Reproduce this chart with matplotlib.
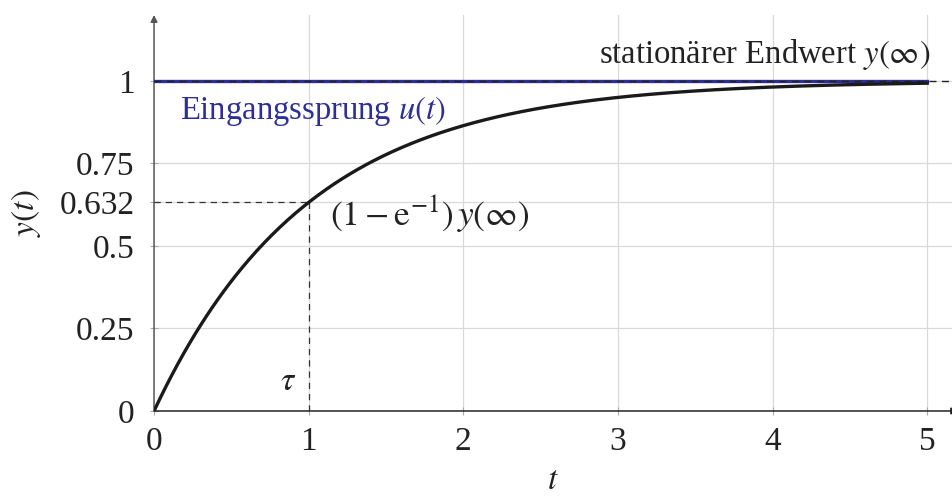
import numpy as np
import matplotlib
matplotlib.use("Agg")
import matplotlib.pyplot as plt

plt.rcParams["font.family"] = ["Liberation Serif", "DejaVu Serif"]
plt.rcParams["mathtext.fontset"] = "stix"

# First-order step response parameters
K = 1.0          # stationary end value y(inf)
tau = 1.0        # time constant
t_end = 5.0
x_ticks = [0, 1, 2, 3, 4, 5]
y_ticks = [0, 0.25, 0.5, 0.632, 0.75, 1]
y_tick_labels = ["0", "0.25", "0.5", "0.632", "0.75", "1"]
y_tau = 0.632

t = np.linspace(0, t_end, 400)
y = K * (1 - np.exp(-t / tau))

fig = plt.figure(figsize=(9.52, 4.96), dpi=100)
ax = fig.add_axes([0.1618, 0.1714, 0.8382, 0.7984])
ax.set_xlim(0, 5.16)
ax.set_ylim(0, 1.2)

grid_c = "#d9d9d9"
for xv in x_ticks[1:]:
    ax.plot([xv, xv], [0, 1.2], color=grid_c, lw=0.9, zorder=0)
for yv in y_ticks[1:]:
    ax.plot([0, 5.16], [yv, yv], color=grid_c, lw=0.9, zorder=0)

for s in ax.spines.values():
    s.set_visible(False)

# axes with arrows
ax.annotate("", xy=(0, 1.2), xytext=(0, 0),
            arrowprops=dict(arrowstyle="-|>", color="#555555", lw=1.1,
                            mutation_scale=10, shrinkA=0, shrinkB=0), zorder=2)
ax.annotate("", xy=(5.2, 0), xytext=(0, 0),
            arrowprops=dict(arrowstyle="-|>", color="#222222", lw=1.1,
                            mutation_scale=10, shrinkA=0, shrinkB=0),
            annotation_clip=False, zorder=2)

ax.set_xticks(x_ticks)
ax.set_xticklabels([str(v) for v in x_ticks])
ax.set_yticks(y_ticks)
ax.set_yticklabels(y_tick_labels)
ax.tick_params(axis="both", direction="inout", length=6, width=0.8,
               color="#aaaaaa", labelsize=24, labelcolor="#222222")
ax.tick_params(axis="x", pad=8)
ax.tick_params(axis="y", pad=11)

# input step and end value
ax.plot([0, t_end], [K, K], color="#2e2e99", lw=2.4, zorder=3)
ax.plot([0, 5.16], [K, K], color="#222222", lw=1.0, ls=(0, (5, 4)), zorder=4)

# step response
ax.plot(t, y, color="#1a1a1a", lw=2.4, zorder=5)

# time constant markers
ax.plot([0, tau], [y_tau, y_tau], color="#333333", lw=0.9, ls=(0, (5, 4)), zorder=3)
ax.plot([tau, tau], [0, y_tau], color="#333333", lw=0.9, ls=(0, (5, 4)), zorder=3)

ax.text(tau - 0.13, 0.09, r"$\tau$", fontsize=24, ha="center", va="center", color="#222222")
ax.text(1.14, 0.595, r"$\left(1-\mathrm{e}^{-1}\right)\,y(\infty)$", fontsize=25.5,
        ha="left", va="center", color="#222222")
ax.text(5.02, 1.08, r"stationärer Endwert $y(\infty)$", fontsize=23.5,
        ha="right", va="center", color="#222222")
ax.text(0.17, 0.91, r"Eingangssprung $u(t)$", fontsize=23.5,
        ha="left", va="center", color="#2e2e99")

ax.set_xlabel(r"$t$", fontsize=24, labelpad=6, color="#222222")
ax.set_ylabel(r"$y(t)$", fontsize=24, labelpad=12, color="#222222")

fig.savefig("out.png", dpi=100)
